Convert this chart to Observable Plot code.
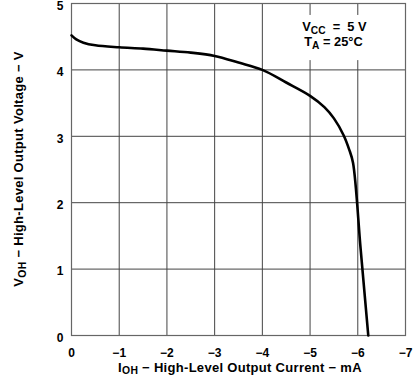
<!DOCTYPE html>
<html>
<head>
<meta charset="utf-8">
<script src="https://cdn.jsdelivr.net/npm/d3@7"></script>
<script src="https://cdn.jsdelivr.net/npm/@observablehq/plot@0.6"></script>
<style>
  html, body { margin: 0; padding: 0; background: #fff; }
  #chart svg { display: block; overflow: visible; font-family: "Liberation Sans", Arial, sans-serif; }
</style>
</head>
<body>
<div id="chart"></div>
<script>
// Output current I_OH (mA) and high-level output voltage V_OH (V)
const currentMA = [0, -0.1, -0.25, -0.5, -1, -1.5, -2, -2.5, -3, -3.5, -4, -4.5, -5, -5.3, -5.5, -5.7, -5.82, -5.9, -6.06, -6.22];
const voltageV  = [4.52, 4.46, 4.41, 4.37, 4.34, 4.32, 4.29, 4.26, 4.21, 4.11, 4.00, 3.81, 3.61, 3.44, 3.27, 3.02, 2.80, 2.60, 1.30, 0];

const xTicks = [0, -1, -2, -3, -4, -5, -6, -7];
const yTicks = [0, 1, 2, 3, 4, 5];

const xLabel = "I_{OH} − High-Level Output Current − mA";
const yLabel = "V_{OH} − High-Level Output Voltage − V";

// Conditions annotation (data coordinates)
const noteLines = ["V_{CC}  =  5 V", "T_{A} = 25°C"];
const noteX = [-5.51, -5.49];
const noteY = [4.645, 4.42];
const noteBox = [{x1: -4.8, x2: -6.2, y1: 4.14, y2: 4.82}];

const curve = currentMA.map((c, i) => ({I: c, V: voltageV[i]}));
const notes = noteLines.map((t, i) => ({t, x: noteX[i], y: noteY[i]}));

const fmt = d => (d < 0 ? "−" + (-d) : String(d));

const W = 414, H = 375;
const plot = Plot.plot({
  width: W,
  height: H,
  marginLeft: 71,
  marginRight: 9,
  marginTop: 3,
  marginBottom: 40,
  style: {fontFamily: "'Liberation Sans', Arial, sans-serif", fontSize: "12px", fontWeight: "bold", color: "#000", background: "#fff", overflow: "visible"},
  x: {domain: [0, -7], ticks: xTicks},
  y: {domain: [0, 5], ticks: yTicks},
  marks: [
    Plot.gridX(xTicks, {stroke: "#444", strokeOpacity: 1, strokeWidth: 1}),
    Plot.gridY(yTicks, {stroke: "#444", strokeOpacity: 1, strokeWidth: 1}),
    Plot.rect(noteBox, {x1: "x1", x2: "x2", y1: "y1", y2: "y2", fill: "#fff"}),
    Plot.frame({stroke: "#666", strokeWidth: 1.2}),
    Plot.axisX(xTicks, {tickSize: 0, tickPadding: 12.5, label: null, fontSize: 12, fontWeight: "bold", tickFormat: fmt}),
    Plot.axisY(yTicks, {tickSize: 0, tickPadding: 8, dy: 2.5, label: null, fontSize: 12, fontWeight: "bold", tickFormat: fmt}),
    Plot.line(curve, {x: "I", y: "V", stroke: "#000", strokeWidth: 2.6, curve: "catmull-rom"}),
    Plot.text(notes, {x: "x", y: "y", text: "t", fontSize: 12.8, fontWeight: "bold", fill: "#000", textAnchor: "middle"})
  ]
});

// Render "_{..}" as subscripts
function richText(el, str, size) {
  el.textContent = "";
  const parts = str.split(/(_\{[^}]*\})/);
  let sub = false;
  const shift = size * 0.22;
  for (const p of parts) {
    if (!p) continue;
    const ts = document.createElementNS("http://www.w3.org/2000/svg", "tspan");
    if (p.startsWith("_{")) {
      ts.textContent = p.slice(2, -1);
      ts.setAttribute("font-size", (size * 0.8).toFixed(1));
      ts.setAttribute("dy", shift);
      sub = true;
    } else {
      ts.textContent = p;
      if (sub) ts.setAttribute("dy", -shift);
      sub = false;
    }
    el.appendChild(ts);
  }
}

const svg = d3.select(plot);
svg.selectAll("text").each(function() {
  const t = this.textContent;
  if (t.includes("_{")) { this.setAttribute("xml:space", "preserve"); richText(this, t, 12.8); }
});

const x = plot.scale("x"), y = plot.scale("y");
const xl = svg.append("text")
  .attr("x", (x.range[0] + x.range[1]) / 2 + 2)
  .attr("y", 371.5)
  .attr("text-anchor", "middle")
  .attr("font-size", 13).attr("font-weight", "bold").attr("letter-spacing", 0.3).attr("fill", "#000");
richText(xl.node(), xLabel, 13);

const yc = (y.range[0] + y.range[1]) / 2;
const yl = svg.append("text")
  .attr("transform", `translate(23,${yc}) rotate(-90)`)
  .attr("text-anchor", "middle")
  .attr("font-size", 13).attr("font-weight", "bold").attr("letter-spacing", 0.3).attr("fill", "#000");
richText(yl.node(), yLabel, 13);

document.getElementById("chart").appendChild(plot);
</script>
</body>
</html>
